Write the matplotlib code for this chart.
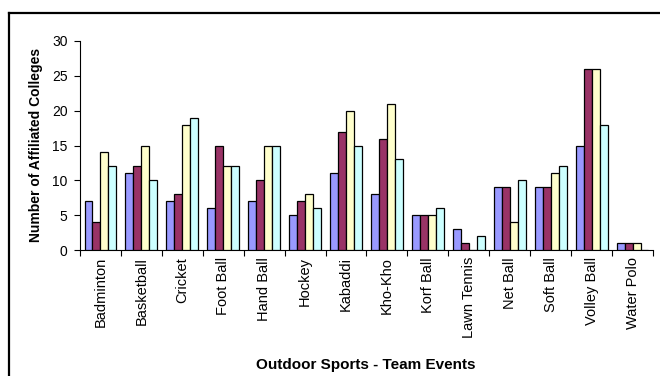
import matplotlib
matplotlib.use("Agg")
import matplotlib.pyplot as plt
import numpy as np
from matplotlib.lines import Line2D

plt.rcParams['font.family'] = ['Liberation Sans', 'DejaVu Sans']

sports = ["Badminton", "Basketball", "Cricket", "Foot Ball", "Hand Ball", "Hockey",
          "Kabaddi", "Kho-Kho", "Korf Ball", "Lawn Tennis", "Net Ball", "Soft Ball",
          "Volley Ball", "Water Polo"]
series_1 = [7, 11, 7, 6, 7, 5, 11, 8, 5, 3, 9, 9, 15, 1]
series_2 = [4, 12, 8, 15, 10, 7, 17, 16, 5, 1, 9, 9, 26, 1]
series_3 = [14, 15, 18, 12, 15, 8, 20, 21, 5, 0, 4, 11, 26, 1]
series_4 = [12, 10, 19, 12, 15, 6, 15, 13, 6, 2, 10, 12, 18, 0]
colors = ["#9999FF", "#993366", "#FFFFCC", "#CCFFFF"]
y_ticks = [0, 5, 10, 15, 20, 25, 30]

W, H = 660, 376
fig = plt.figure(figsize=(W / 100, H / 100), dpi=100)
ax = fig.add_axes([80 / W, (H - 250) / H, (653 - 80) / W, (250 - 41) / H])

centers = np.arange(len(sports)) + 0.5
bw = 0.195
for k, vals in enumerate([series_1, series_2, series_3, series_4]):
    ax.bar(centers + (k - 1.5) * bw, vals, width=bw, color=colors[k],
           edgecolor="black", linewidth=0.9, zorder=3)

ax.set_xlim(0, len(sports))
ax.set_ylim(0, 30)
ax.set_yticks(y_ticks)
ax.set_yticklabels([str(t) for t in y_ticks], fontsize=10)
ax.tick_params(axis="y", direction="out", length=4, width=0.8, pad=5)

ax.set_xticks(centers)
ax.set_xticklabels(sports, rotation=90, fontsize=10.5)
ax.tick_params(axis="x", which="major", length=0, pad=5)
ax.set_xticks(np.arange(len(sports) + 1), minor=True)
ax.tick_params(axis="x", which="minor", direction="out", length=4, width=0.8)

for s in ["top", "right"]:
    ax.spines[s].set_visible(False)
for s in ["left", "bottom"]:
    ax.spines[s].set_linewidth(0.8)

fig.text(36 / W, 1 - 145 / H, "Number of Affiliated Colleges", rotation=90,
         ha="center", va="center", fontsize=10, fontweight="bold")
fig.text(366 / W, 1 - 365 / H, "Outdoor Sports - Team Events",
         ha="center", va="center", fontsize=11, fontweight="bold")

# outer frame (left and top edges visible)
fig.add_artist(Line2D([9 / W, 9 / W], [0, 1 - 13 / H], color="black", linewidth=1.6,
                      transform=fig.transFigure))
fig.add_artist(Line2D([9 / W, 1], [1 - 13 / H, 1 - 13 / H], color="black", linewidth=1.6,
                      transform=fig.transFigure))

fig.savefig("out.png", dpi=100)
